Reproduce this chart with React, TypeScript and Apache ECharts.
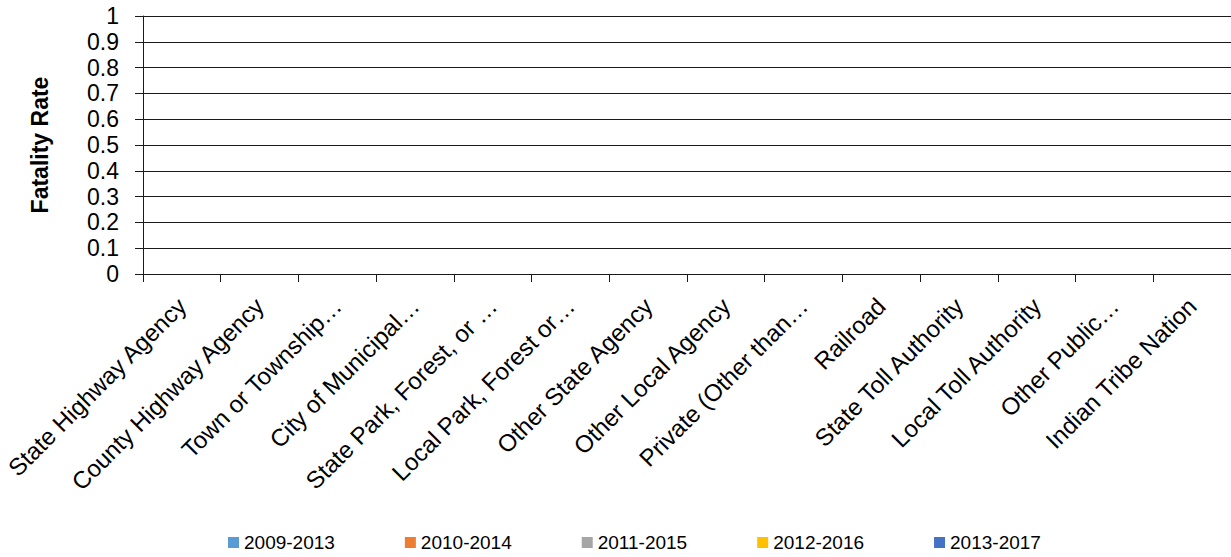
import React, { useEffect, useRef } from "react";
import * as echarts from "echarts";

const categories = [
  "State Highway Agency",
  "County Highway Agency",
  "Town or Township…",
  "City of Municipal…",
  "State Park, Forest, or …",
  "Local Park, Forest or…",
  "Other State Agency",
  "Other Local Agency",
  "Private (Other than…",
  "Railroad",
  "State Toll Authority",
  "Local Toll Authority",
  "Other Public…",
  "Indian Tribe Nation",
];

const seriesNames = ["2009-2013", "2010-2014", "2011-2015", "2012-2016", "2013-2017"];
const seriesColors = ["#5B9BD5", "#ED7D31", "#A5A5A5", "#FFC000", "#4472C4"];

const values2009_2013 = [0, 0, 0, 0, 0, 0, 0, 0, 0, 0, 0, 0, 0, 0];
const values2010_2014 = [0, 0, 0, 0, 0, 0, 0, 0, 0, 0, 0, 0, 0, 0];
const values2011_2015 = [0, 0, 0, 0, 0, 0, 0, 0, 0, 0, 0, 0, 0, 0];
const values2012_2016 = [0, 0, 0, 0, 0, 0, 0, 0, 0, 0, 0, 0, 0, 0];
const values2013_2017 = [0, 0, 0, 0, 0, 0, 0, 0, 0, 0, 0, 0, 0, 0];
const seriesValues = [values2009_2013, values2010_2014, values2011_2015, values2012_2016, values2013_2017];

const FONT = "'Liberation Sans', Arial, sans-serif";
const LINE = "#1a1a1a";

export default function App() {
  const ref = useRef<HTMLDivElement>(null);
  useEffect(() => {
    if (!ref.current) return;
    const chart = echarts.init(ref.current, null, { renderer: "svg" });
    chart.setOption({
      animation: false,
      textStyle: { fontFamily: FONT },
      grid: { left: 143, right: 0, top: 16, bottom: 283, containLabel: false },
      legend: {
        data: seriesNames,
        left: 223,
        top: 528,
        icon: "rect",
        itemWidth: 11,
        itemHeight: 11,
        itemGap: 70,
        textStyle: { fontSize: 19, color: "#000", fontFamily: FONT },
      },
      xAxis: {
        type: "category",
        data: categories,
        boundaryGap: true,
        axisLine: { show: true, lineStyle: { color: LINE, width: 1 } },
        axisTick: { show: true, length: 8, interval: 0, lineStyle: { color: LINE } },
        axisLabel: {
          interval: 0,
          rotate: 45,
          margin: 28,
          fontSize: 24,
          color: "#000",
          fontFamily: FONT,
        },
      },
      yAxis: {
        type: "value",
        min: 0,
        max: 1,
        interval: 0.1,
        name: "Fatality Rate",
        nameLocation: "middle",
        nameGap: 92,
        nameTextStyle: { fontSize: 23, fontWeight: "bold", color: "#000", fontFamily: FONT },
        axisLine: { show: true, lineStyle: { color: LINE, width: 1 } },
        axisTick: { show: true, length: 8, lineStyle: { color: LINE } },
        axisLabel: { fontSize: 23, color: "#000", margin: 24, fontFamily: FONT },
        splitLine: { show: true, lineStyle: { color: LINE, width: 1 } },
      },
      series: seriesNames.map((name, i) => ({
        name,
        type: "bar",
        data: seriesValues[i],
        itemStyle: { color: seriesColors[i] },
      })),
    });
    return () => chart.dispose();
  }, []);
  return <div ref={ref} style={{ width: 1231, height: 557, position: "absolute", left: 0, top: 0 }} />;
}
